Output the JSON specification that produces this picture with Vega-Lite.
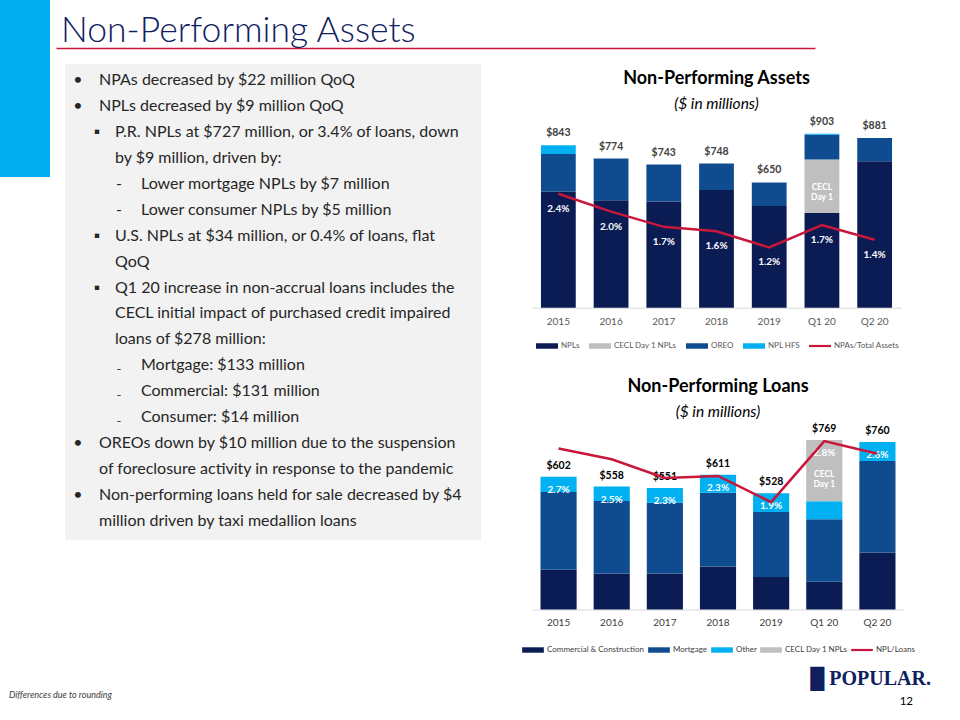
{
  "$schema": "https://vega.github.io/schema/vega-lite/v6.json",
  "background": "white",
  "padding": 0,
  "config": {
    "view": {"stroke": null},
    "font": "Lato",
    "legend": {"layout": {"bottom": {"anchor": "middle"}}}
  },
  "datasets": {
    "npa": [
      {"period": "2015", "series": "NPLs", "k": 1, "value": 602},
      {"period": "2015", "series": "OREO", "k": 3, "value": 196},
      {"period": "2015", "series": "NPL HFS", "k": 4, "value": 45},
      {"period": "2016", "series": "NPLs", "k": 1, "value": 558},
      {"period": "2016", "series": "OREO", "k": 3, "value": 216},
      {"period": "2017", "series": "NPLs", "k": 1, "value": 551},
      {"period": "2017", "series": "OREO", "k": 3, "value": 192},
      {"period": "2018", "series": "NPLs", "k": 1, "value": 611},
      {"period": "2018", "series": "OREO", "k": 3, "value": 137},
      {"period": "2019", "series": "NPLs", "k": 1, "value": 528},
      {"period": "2019", "series": "OREO", "k": 3, "value": 122},
      {"period": "Q1 20", "series": "NPLs", "k": 1, "value": 491},
      {"period": "Q1 20", "series": "CECL Day 1 NPLs", "k": 2, "value": 278},
      {"period": "Q1 20", "series": "OREO", "k": 3, "value": 129},
      {"period": "Q1 20", "series": "NPL HFS", "k": 4, "value": 5},
      {"period": "Q2 20", "series": "NPLs", "k": 1, "value": 760},
      {"period": "Q2 20", "series": "OREO", "k": 3, "value": 120},
      {"period": "Q2 20", "series": "NPL HFS", "k": 4, "value": 1}
    ],
    "npaSum": [
      {"period": "2015", "total": 843, "npl": 602, "rate": 0.024},
      {"period": "2016", "total": 774, "npl": 558, "rate": 0.020},
      {"period": "2017", "total": 743, "npl": 551, "rate": 0.0166},
      {"period": "2018", "total": 748, "npl": 611, "rate": 0.0156},
      {"period": "2019", "total": 650, "npl": 528, "rate": 0.012},
      {"period": "Q1 20", "total": 903, "npl": 769, "rate": 0.017},
      {"period": "Q2 20", "total": 881, "npl": 760, "rate": 0.0137}
    ],
    "npl": [
      {"period": "2015", "series": "Commercial & Construction", "k": 1, "value": 180},
      {"period": "2015", "series": "Mortgage", "k": 2, "value": 353},
      {"period": "2015", "series": "Other", "k": 3, "value": 69},
      {"period": "2016", "series": "Commercial & Construction", "k": 1, "value": 163},
      {"period": "2016", "series": "Mortgage", "k": 2, "value": 329},
      {"period": "2016", "series": "Other", "k": 3, "value": 66},
      {"period": "2017", "series": "Commercial & Construction", "k": 1, "value": 163},
      {"period": "2017", "series": "Mortgage", "k": 2, "value": 321},
      {"period": "2017", "series": "Other", "k": 3, "value": 67},
      {"period": "2018", "series": "Commercial & Construction", "k": 1, "value": 195},
      {"period": "2018", "series": "Mortgage", "k": 2, "value": 335},
      {"period": "2018", "series": "Other", "k": 3, "value": 81},
      {"period": "2019", "series": "Commercial & Construction", "k": 1, "value": 147},
      {"period": "2019", "series": "Mortgage", "k": 2, "value": 296},
      {"period": "2019", "series": "Other", "k": 3, "value": 85},
      {"period": "Q1 20", "series": "Commercial & Construction", "k": 1, "value": 126},
      {"period": "Q1 20", "series": "Mortgage", "k": 2, "value": 284},
      {"period": "Q1 20", "series": "Other", "k": 3, "value": 81},
      {"period": "Q1 20", "series": "CECL Day 1 NPLs", "k": 4, "value": 278},
      {"period": "Q2 20", "series": "Commercial & Construction", "k": 1, "value": 259},
      {"period": "Q2 20", "series": "Mortgage", "k": 2, "value": 415},
      {"period": "Q2 20", "series": "Other", "k": 3, "value": 86}
    ],
    "nplSum": [
      {"period": "2015", "total": 602, "rate": 0.027},
      {"period": "2016", "total": 558, "rate": 0.0254},
      {"period": "2017", "total": 551, "rate": 0.0226},
      {"period": "2018", "total": 611, "rate": 0.0229},
      {"period": "2019", "total": 528, "rate": 0.019},
      {"period": "Q1 20", "total": 769, "rate": 0.0281},
      {"period": "Q2 20", "total": 760, "rate": 0.0262}
    ],
    "bullets": [
      {"line": 1, "level": 0, "bullet": "•", "text": "NPAs decreased by $22 million QoQ"},
      {"line": 2, "level": 0, "bullet": "•", "text": "NPLs decreased by $9 million QoQ"},
      {"line": 3, "level": 1, "bullet": "▪", "text": "P.R. NPLs at $727 million, or 3.4% of loans, down"},
      {"line": 4, "level": 1, "bullet": "", "text": "by $9 million, driven by:"},
      {"line": 5, "level": 2, "bullet": "-", "text": "Lower mortgage NPLs by $7 million"},
      {"line": 6, "level": 2, "bullet": "-", "text": "Lower consumer NPLs by $5 million"},
      {"line": 7, "level": 1, "bullet": "▪", "text": "U.S. NPLs at $34 million, or 0.4% of loans, flat"},
      {"line": 8, "level": 1, "bullet": "", "text": "QoQ"},
      {"line": 9, "level": 1, "bullet": "▪", "text": "Q1 20 increase in non-accrual loans includes the"},
      {"line": 10, "level": 1, "bullet": "", "text": "CECL initial impact of purchased credit impaired"},
      {"line": 11, "level": 1, "bullet": "", "text": "loans of $278 million:"},
      {"line": 12, "level": 2, "bullet": "₋", "text": "Mortgage: $133 million"},
      {"line": 13, "level": 2, "bullet": "₋", "text": "Commercial: $131 million"},
      {"line": 14, "level": 2, "bullet": "₋", "text": "Consumer: $14 million"},
      {"line": 15, "level": 0, "bullet": "•", "text": "OREOs down by $10 million due to the suspension"},
      {"line": 16, "level": 0, "bullet": "", "text": "of foreclosure activity in response to the pandemic"},
      {"line": 17, "level": 0, "bullet": "•", "text": "Non-performing loans held for sale decreased by $4"},
      {"line": 18, "level": 0, "bullet": "", "text": "million driven by taxi medallion loans"}
    ]
  },
  "title": {
    "text": "Differences due to rounding",
    "orient": "bottom",
    "anchor": "start",
    "font": "Lato",
    "fontSize": 9,
    "fontStyle": "italic",
    "fontWeight": "normal",
    "color": "#404040",
    "dx": 9,
    "dy": -17,
    "offset": 0
  },
  "spacing": 6,
  "hconcat": [
    {
      "width": 50,
      "height": 177,
      "view": {"fill": "#00aeef", "stroke": null},
      "data": {"values": []},
      "mark": {"type": "text"},
      "encoding": {"text": {"value": ""}}
    },
    {
      "spacing": 15,
      "vconcat": [
        {
          "width": 759,
          "height": 48,
          "title": {
            "text": "Non-Performing Assets",
            "orient": "top",
            "anchor": "start",
            "font": "Lato",
            "fontSize": 35.5,
            "fontWeight": 300,
            "color": "#10205e",
            "offset": -49,
            "dx": 5
          },
          "data": {"values": [{"v": 0}, {"v": 1}]},
          "mark": {"type": "text"},
          "encoding": {
            "x": {
              "field": "v",
              "type": "quantitative",
              "axis": {"domainColor": "#c8173a", "domainWidth": 1.5, "ticks": false, "labels": false, "grid": false, "title": null, "orient": "bottom"}
            },
            "text": {"value": ""}
          }
        },
        {
          "spacing": 40,
          "hconcat": [
            {
              "spacing": 8,
              "hconcat": [
                {
                  "width": 1,
                  "height": 1,
                  "data": {"values": []},
                  "mark": {"type": "text"},
                  "encoding": {"text": {"value": ""}}
                },
                {
                  "width": 416,
                  "height": 476,
                  "view": {"fill": "#f2f2f2", "stroke": null},
                  "data": {"name": "bullets"},
                  "encoding": {
                    "y": {"field": "line", "type": "ordinal", "scale": {"type": "point", "padding": 0, "range": [16, 457]}, "axis": null}
                  },
                  "layer": [
                    {
                      "mark": {"type": "text", "align": "center", "baseline": "middle", "font": "Lato", "fontSize": 16, "color": "#262626"},
                      "encoding": {
                        "x": {"field": "level", "type": "quantitative", "scale": {"domain": [0, 1, 2], "range": [13, 32, 54]}, "axis": null},
                        "text": {"field": "bullet"}
                      }
                    },
                    {
                      "mark": {"type": "text", "align": "left", "baseline": "middle", "font": "Lato", "fontSize": 16, "color": "#262626"},
                      "encoding": {
                        "x": {"field": "level", "type": "quantitative", "scale": {"domain": [0, 1, 2], "range": [34, 50, 76]}, "axis": null},
                        "text": {"field": "text"}
                      }
                    }
                  ],
                  "resolve": {"scale": {"x": "independent"}}
                }
              ]
            },
            {
              "spacing": 14,
              "vconcat": [
                {
                  "spacing": 27,
                  "resolve": {"scale": {"color": "independent"}},
                  "vconcat": [
                    {
                      "spacing": 2,
                      "vconcat": [
                        {
                          "width": 369,
                          "height": 1,
                          "title": {
                            "text": "Non-Performing Assets",
                            "subtitle": "($ in millions)",
                            "orient": "bottom",
                            "font": "Lato",
                            "fontSize": 18,
                            "fontWeight": "bold",
                            "color": "#000000",
                            "subtitleFont": "Lato",
                            "subtitleFontSize": 15.5,
                            "subtitleFontStyle": "italic",
                            "subtitleColor": "#000000",
                            "subtitlePadding": 9,
                            "offset": 5
                          },
                          "data": {"values": []},
                          "mark": {"type": "text"},
                          "encoding": {"text": {"value": ""}}
                        },
                        {
                          "width": 369,
                          "height": 192.7,
                          "encoding": {
                            "x": {
                              "field": "period",
                              "type": "nominal",
                              "scale": {"domain": ["2015", "2016", "2017", "2018", "2019", "Q1 20", "Q2 20"], "paddingInner": 0.34, "paddingOuter": 0.17},
                              "axis": {"title": null, "labelAngle": 0, "ticks": false, "domainColor": "#d9d9d9", "labelColor": "#595959", "labelFont": "Lato", "labelFontSize": 10, "labelPadding": 9}
                            }
                          },
                          "layer": [
                            {
                              "data": {"name": "npa"},
                              "mark": {"type": "bar"},
                              "encoding": {
                                "y": {"field": "value", "type": "quantitative", "stack": "zero", "scale": {"domain": [0, 1000], "nice": false}, "axis": null},
                                "color": {
                                  "field": "series",
                                  "type": "nominal",
                                  "scale": {
                                    "domain": ["NPLs", "CECL Day 1 NPLs", "OREO", "NPL HFS", "NPAs/Total Assets"],
                                    "range": ["#0b1c54", "#bfbfbf", "#0f4c8f", "#00b0f0", "#c8173a"]
                                  },
                                  "legend": {
                                    "orient": "bottom",
                                    "direction": "horizontal",
                                    "title": null,
                                    "symbolType": "M-1,-0.25L1,-0.25L1,0.25L-1,0.25Z",
                                    "symbolSize": 484,
                                    "labelFont": "Lato",
                                    "labelFontSize": 8,
                                    "labelColor": "#595959",
                                    "labelOffset": 2,
                                    "columnPadding": 8,
                                    "offset": 7,
                                    "encode": {
                                      "symbols": {
                                        "update": {
                                          "shape": {"signal": "datum.value === 'NPAs/Total Assets' ? 'M-1,-0.1L1,-0.1L1,0.1L-1,0.1Z' : 'M-1,-0.25L1,-0.25L1,0.25L-1,0.25Z'"}
                                        }
                                      }
                                    }
                                  }
                                },
                                "order": {"field": "k", "type": "quantitative"}
                              }
                            },
                            {
                              "data": {"name": "npaSum"},
                              "mark": {"type": "text", "dy": -12, "font": "Lato", "fontSize": 10.5, "fontWeight": "bold", "color": "#404040"},
                              "encoding": {
                                "y": {"field": "total", "type": "quantitative", "scale": {"domain": [0, 1000], "nice": false}, "axis": null},
                                "text": {"field": "total", "type": "quantitative", "format": "$.0f"}
                              }
                            },
                            {
                              "data": {"name": "npaSum"},
                              "transform": [{"filter": "datum.period == 'Q1 20'"}],
                              "mark": {"type": "text", "baseline": "top", "dy": 23, "lineHeight": 10, "font": "Lato", "fontSize": 8.5, "fontWeight": "bold", "color": "#ffffff"},
                              "encoding": {
                                "y": {"field": "npl", "type": "quantitative", "scale": {"domain": [0, 1000], "nice": false}, "axis": null},
                                "text": {"value": ["CECL", "Day 1"]}
                              }
                            },
                            {
                              "data": {"name": "npaSum"},
                              "mark": {"type": "line", "color": "#c8173a", "strokeWidth": 2.5},
                              "encoding": {
                                "y": {"field": "rate", "type": "quantitative", "scale": {"domain": [-0.00147, 0.04159], "nice": false, "zero": false}, "axis": null}
                              }
                            },
                            {
                              "data": {"name": "npaSum"},
                              "mark": {"type": "text", "dy": 15, "font": "Lato", "fontSize": 10, "fontWeight": "bold", "color": "#ffffff"},
                              "encoding": {
                                "y": {"field": "rate", "type": "quantitative", "scale": {"domain": [-0.00147, 0.04159], "nice": false, "zero": false}, "axis": null},
                                "text": {"field": "rate", "type": "quantitative", "format": ".1%"}
                              }
                            }
                          ],
                          "resolve": {"scale": {"y": "independent"}}
                        }
                      ]
                    },
                    {
                      "width": 372,
                      "height": 189.5,
                      "title": {
                        "text": "Non-Performing Loans",
                        "subtitle": "($ in millions)",
                        "font": "Lato",
                        "fontSize": 18,
                        "fontWeight": "bold",
                        "color": "#000000",
                        "subtitleFont": "Lato",
                        "subtitleFontSize": 15.5,
                        "subtitleFontStyle": "italic",
                        "subtitleColor": "#000000",
                        "subtitlePadding": 9,
                        "offset": 0
                      },
                      "encoding": {
                        "x": {
                          "field": "period",
                          "type": "nominal",
                          "scale": {"domain": ["2015", "2016", "2017", "2018", "2019", "Q1 20", "Q2 20"], "paddingInner": 0.32, "paddingOuter": 0.16},
                          "axis": {"title": null, "labelAngle": 0, "ticks": false, "domainColor": "#d9d9d9", "labelColor": "#404040", "labelFont": "Lato", "labelFontSize": 10, "labelPadding": 8}
                        }
                      },
                      "layer": [
                        {
                          "data": {"name": "npl"},
                          "mark": {"type": "bar"},
                          "encoding": {
                            "y": {"field": "value", "type": "quantitative", "stack": "zero", "scale": {"domain": [0, 860], "nice": false}, "axis": null},
                            "color": {
                              "field": "series",
                              "type": "nominal",
                              "scale": {
                                "domain": ["Commercial & Construction", "Mortgage", "Other", "CECL Day 1 NPLs", "NPL/Loans"],
                                "range": ["#0b1c54", "#0f4c8f", "#00b0f0", "#bfbfbf", "#c8173a"]
                              },
                              "legend": {
                                "orient": "bottom",
                                "direction": "horizontal",
                                "title": null,
                                "symbolType": "M-1,-0.25L1,-0.25L1,0.25L-1,0.25Z",
                                "symbolSize": 470,
                                "labelFont": "Lato",
                                "labelFontSize": 8,
                                "labelColor": "#404040",
                                "labelOffset": 2,
                                "columnPadding": 2,
                                "offset": 10,
                                "encode": {
                                  "symbols": {
                                    "update": {
                                      "shape": {"signal": "datum.value === 'NPL/Loans' ? 'M-1,-0.1L1,-0.1L1,0.1L-1,0.1Z' : 'M-1,-0.25L1,-0.25L1,0.25L-1,0.25Z'"}
                                    }
                                  }
                                }
                              }
                            },
                            "order": {"field": "k", "type": "quantitative"}
                          }
                        },
                        {
                          "data": {"name": "nplSum"},
                          "mark": {"type": "text", "dy": -11, "font": "Lato", "fontSize": 10.5, "fontWeight": "bold", "color": "#000000"},
                          "encoding": {
                            "y": {"field": "total", "type": "quantitative", "scale": {"domain": [0, 860], "nice": false}, "axis": null},
                            "text": {"field": "total", "type": "quantitative", "format": "$.0f"}
                          }
                        },
                        {
                          "data": {"name": "nplSum"},
                          "transform": [{"filter": "datum.period == 'Q1 20'"}],
                          "mark": {"type": "text", "baseline": "top", "dy": 30, "lineHeight": 10, "font": "Lato", "fontSize": 8.5, "fontWeight": "bold", "color": "#ffffff"},
                          "encoding": {
                            "y": {"field": "total", "type": "quantitative", "scale": {"domain": [0, 860], "nice": false}, "axis": null},
                            "text": {"value": ["CECL", "Day 1"]}
                          }
                        },
                        {
                          "data": {"name": "nplSum"},
                          "mark": {"type": "text", "dy": 13, "font": "Lato", "fontSize": 10, "fontWeight": "bold", "color": "#ffffff"},
                          "encoding": {
                            "y": {"field": "total", "type": "quantitative", "scale": {"domain": [0, 860], "nice": false}, "axis": null},
                            "text": {"field": "rate", "type": "quantitative", "format": ".1%"}
                          }
                        },
                        {
                          "data": {"name": "nplSum"},
                          "mark": {"type": "line", "color": "#c8173a", "strokeWidth": 2.5},
                          "encoding": {
                            "y": {"field": "rate", "type": "quantitative", "scale": {"domain": [0.00297, 0.03125], "nice": false, "zero": false}, "axis": null}
                          }
                        }
                      ],
                      "resolve": {"scale": {"y": "independent"}}
                    }
                  ]
                },
                {
                  "width": 399,
                  "height": 1,
                  "title": {
                    "text": "█ POPULAR.",
                    "subtitle": "12\u2800\u2800",
                    "orient": "bottom",
                    "anchor": "end",
                    "font": "Liberation Serif",
                    "fontSize": 20,
                    "fontWeight": "bold",
                    "color": "#10205e",
                    "subtitleFont": "Lato",
                    "subtitleFontSize": 11.5,
                    "subtitleColor": "#000000",
                    "subtitlePadding": 7,
                    "offset": 0
                  },
                  "data": {"values": []},
                  "mark": {"type": "text"},
                  "encoding": {"text": {"value": ""}}
                }
              ]
            }
          ]
        }
      ]
    }
  ]
}
